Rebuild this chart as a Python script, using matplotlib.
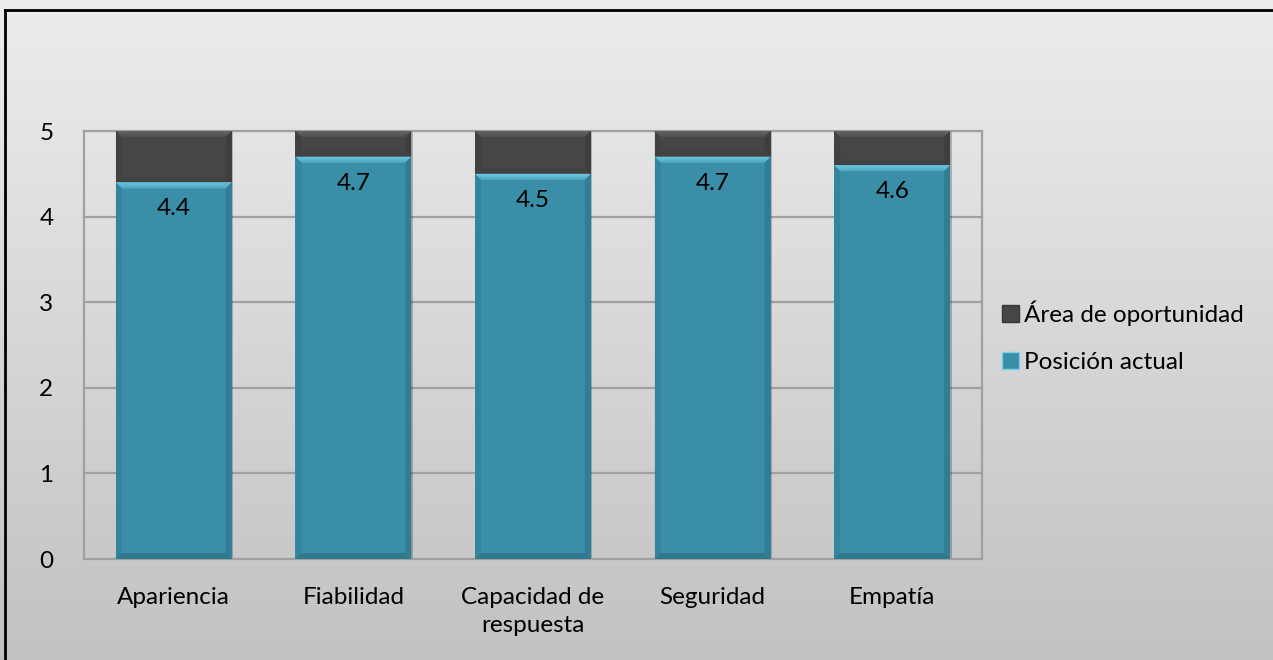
import numpy as np
import matplotlib.pyplot as plt
from matplotlib.patches import Polygon, Rectangle, Patch
from matplotlib.lines import Line2D

categories = ['Apariencia', 'Fiabilidad', 'Capacidad de\nrespuesta', 'Seguridad', 'Empatía']
posicion_actual = [4.4, 4.7, 4.5, 4.7, 4.6]
escala_max = 5
area_oportunidad = [round(escala_max - v, 1) for v in posicion_actual]
series_names = ['Posición actual', 'Área de oportunidad']

plt.rcParams['font.family'] = ['Lato', 'DejaVu Sans']
FS = 17.5

TEAL = '#3a8ea8'
TEAL_LIGHT = '#74d2ec'
TEAL_DARK = '#2b6f84'
GREY = '#464646'
GREY_LIGHT = '#626262'
GREY_DARK = '#383838'

W, H = 1273, 660
fig = plt.figure(figsize=(W / 100, H / 100), dpi=100)

# vertical gradient background
bg = fig.add_axes([0, 0, 1, 1], zorder=-10)
grad = np.linspace(0, 1, 256).reshape(-1, 1)
top, bot = np.array([0.93, 0.93, 0.93]), np.array([0.76, 0.76, 0.76])
img = top + (bot - top) * grad[..., None]
bg.imshow(img, aspect='auto', extent=[0, 1, 0, 1])
bg.set_xlim(0, 1)
bg.set_ylim(0, 1)
bg.axis('off')
# chart frame, left and top edges
bg.add_line(Line2D([5 / W, 5 / W], [0, 1 - 10 / H], color='black', lw=2.0))
bg.add_line(Line2D([5 / W, 1], [1 - 10 / H, 1 - 10 / H], color='black', lw=2.0))

ax = fig.add_axes([84 / W, (H - 559) / H, 898 / W, (559 - 131) / H])
ax.set_facecolor('none')

x = np.arange(len(categories))
width = 0.645
ax.set_xlim(-0.5, len(categories) - 0.5)
ax.set_ylim(0, escala_max)

# bevel sizes in data units (~6 px)
bx = 6 / 179.6
by = 6 / (428 / escala_max)


def bevel_bar(xc, y0, y1, face, light, dark, bottom_alpha):
    x0, x1 = xc - width / 2, xc + width / 2
    ax.add_patch(Rectangle((x0, y0), width, y1 - y0, facecolor=face,
                           edgecolor='none', zorder=3))
    # top bevel, fading downwards
    n = 6
    for k in range(n):
        t0, t1 = k / n, (k + 1) / n
        ax.add_patch(Polygon([(x0 + bx * t0, y1 - by * t0), (x1 - bx * t0, y1 - by * t0),
                              (x1 - bx * t1, y1 - by * t1), (x0 + bx * t1, y1 - by * t1)],
                             facecolor=light, edgecolor='none', alpha=1 - 0.7 * t0,
                             zorder=4))
    # bottom bevel
    ax.add_patch(Polygon([(x0, y0), (x1, y0), (x1 - bx, y0 + by), (x0 + bx, y0 + by)],
                         facecolor=dark, edgecolor='none', alpha=bottom_alpha, zorder=4))
    # side bevels
    ax.add_patch(Polygon([(x0, y0), (x0 + bx, y0 + by), (x0 + bx, y1 - by), (x0, y1)],
                         facecolor=dark, edgecolor='none', alpha=0.3, zorder=4))
    ax.add_patch(Polygon([(x1, y0), (x1 - bx, y0 + by), (x1 - bx, y1 - by), (x1, y1)],
                         facecolor=dark, edgecolor='none', alpha=0.55, zorder=4))


for xi, v, o in zip(x, posicion_actual, area_oportunidad):
    # soft shadow on the right of each column
    ax.add_patch(Rectangle((xi + width / 2, 0), 0.008, v + o, facecolor='#000000',
                           alpha=0.22, edgecolor='none', zorder=2))
    bevel_bar(xi, 0, v, TEAL, TEAL_LIGHT, TEAL_DARK, 0.7)
    bevel_bar(xi, v, v + o, GREY, GREY_LIGHT, GREY_DARK, 0.25)
    ax.text(xi, v - 0.31, f'{v:.1f}', ha='center', va='center', fontsize=FS,
            color='black', zorder=5)

ax.set_yticks(range(0, escala_max + 1))
ax.yaxis.grid(True, color='#a0a0a0', lw=1.6, zorder=0)
ax.set_axisbelow(True)
for s in ax.spines.values():
    s.set_color('#a0a0a0')
    s.set_linewidth(1.6)
ax.set_xticks(x)
ax.set_xticklabels(categories, fontsize=FS, linespacing=1.4)
ax.tick_params(axis='x', length=0, pad=20)
ax.tick_params(axis='y', length=0, pad=22, labelsize=FS)

handles = [Patch(facecolor=GREY, edgecolor=GREY_DARK, label=series_names[1]),
           Patch(facecolor=TEAL, edgecolor=TEAL_LIGHT, label=series_names[0])]
fig.legend(handles=handles, loc='center left', bbox_to_anchor=(992 / W, 1 - 337 / H),
           frameon=False, fontsize=FS, handlelength=0.7, handleheight=0.7,
           handletextpad=0.2, labelspacing=1.05, borderaxespad=0)

fig.savefig('out.png', dpi=100)
